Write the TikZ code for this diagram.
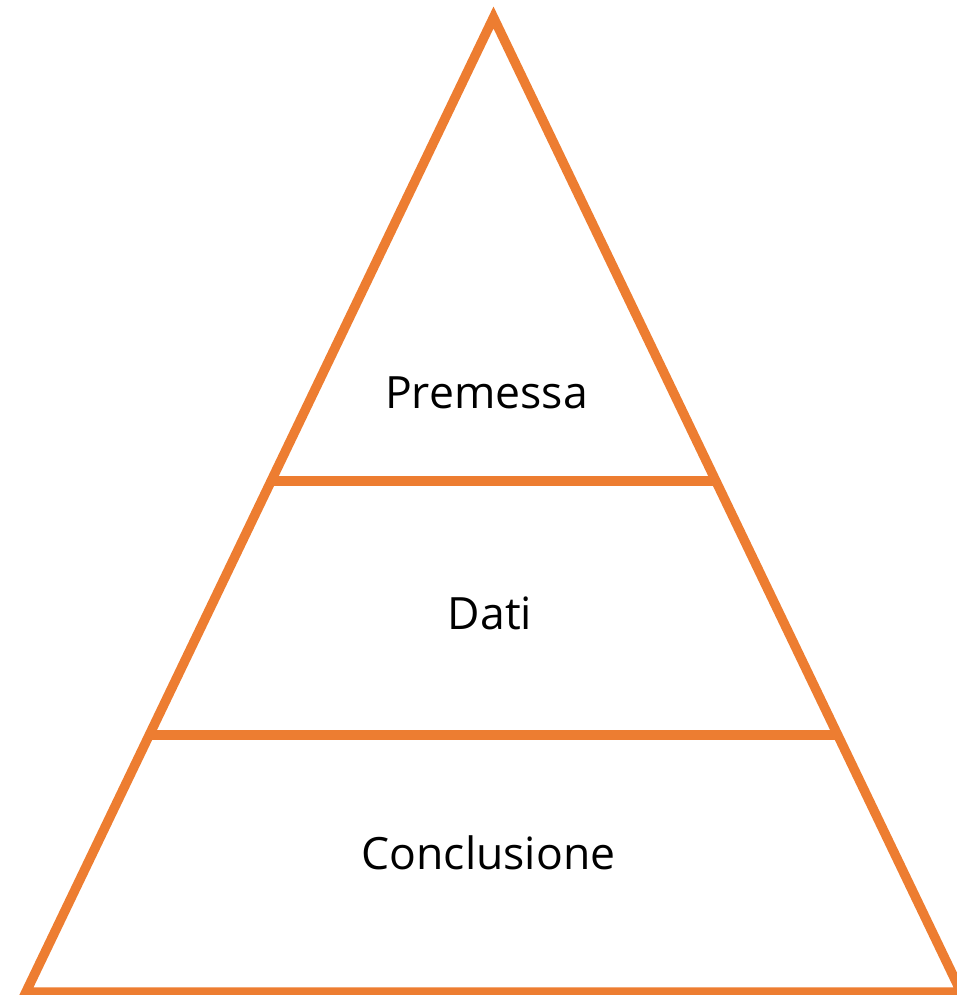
\documentclass[tikz,border=0pt]{standalone}
\usepackage{fontspec}
\setmainfont{Open Sans}
\definecolor{pyrorange}{HTML}{ED7D31}
\begin{document}
\begin{tikzpicture}[x=1pt,y=-1pt,
  edge/.style={draw=pyrorange,line width=9.5pt,line join=miter},
  label/.style={font=\fontsize{44.5}{52}\selectfont,text=black,anchor=base,inner sep=0pt}]
\useasboundingbox (0,0) rectangle (957,995);
\clip (0,0) rectangle (957,995);
\coordinate (apex) at (493.5,17.5);
\coordinate (bl) at (26,992);
\coordinate (br) at (961,992);
\coordinate (l1) at (271,481);
\coordinate (r1) at (716,481);
\coordinate (l2) at (149,735);
\coordinate (r2) at (838,735);
\draw[edge] (apex) -- (br) -- (bl) -- cycle;
\draw[edge] (l1) -- (r1);
\draw[edge] (l2) -- (r2);
\node[label] (premessa) at (486.5,408) {Premessa};
\node[label] (dati) at (490,629) {Dati};
\node[label] (conclusione) at (488.5,869) {Conclusione};
\end{tikzpicture}
\end{document}
